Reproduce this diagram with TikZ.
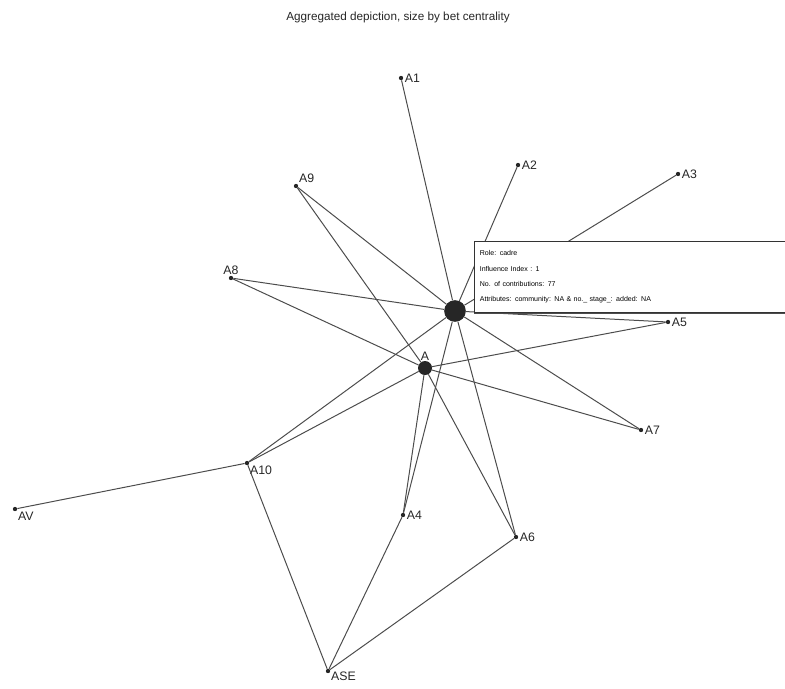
\documentclass[tikz,border=0pt]{standalone}
\usepackage{fontspec}
\setmainfont{Liberation Sans}
\usepackage{tikz}
\usetikzlibrary{positioning}
\tikzstyle{hub} = [circle, fill=black!85, inner sep=0pt, minimum size=6.5mm]
\tikzstyle{core} = [circle, fill=black!85, inner sep=0pt, minimum size=4.2mm]
\tikzstyle{actor} = [circle, fill=black!85, inner sep=0pt, minimum size=1.3mm]
\tikzstyle{tag} = [font=\fontsize{10.5}{12}\selectfont, inner sep=1pt, text=black!85]
\tikzstyle{tie} = [draw=black!70, line width=0.85pt]
\tikzstyle{infobox} = [rectangle, draw=black!80, line width=0.6pt, fill=white, align=left, anchor=north west, minimum width=93.3mm, minimum height=21.3mm, text width=90mm, font=\fontsize{6}{13}\selectfont, inner sep=1.5mm]

\begin{document}
\begin{tikzpicture}[x=0.3mm, y=-0.3mm]
        \useasboundingbox (0,0) rectangle (785,688);
        \node (title) [font=\fontsize{10}{12}\selectfont, text=black!85] at (398,17) {Aggregated depiction, size by bet centrality};

        \node (hub) [hub] at (455,311) {};
        \node (a) [core, label={[tag, yshift=-1pt]above:A}] at (425,368) {};
        \node (a1) [actor, label={[tag]right:A1}] at (401,78) {};
        \node (a2) [actor, label={[tag]right:A2}] at (518,165) {};
        \node (a3) [actor, label={[tag]right:A3}] at (678,174) {};
        \node (a9) [actor, label={[tag]above right:A9}] at (296,186) {};
        \node (a8) [actor, label={[tag]above:A8}] at (231,278) {};
        \node (a5) [actor, label={[tag]right:A5}] at (668,322) {};
        \node (a7) [actor, label={[tag]right:A7}] at (641,430) {};
        \node (a10) [actor, label={[tag]below right:A10}] at (247,463) {};
        \node (av) [actor, label={[tag]below right:AV}] at (15,509) {};
        \node (a4) [actor, label={[tag]right:A4}] at (403,515) {};
        \node (a6) [actor, label={[tag]right:A6}] at (516,537) {};
        \node (ase) [actor, label={[tag, yshift=2pt]below right:ASE}] at (328,671) {};

        \draw [tie] (hub) -- (a1);
        \draw [tie] (hub) -- (a2);
        \draw [tie] (hub) -- (a3);
        \draw [tie] (hub) -- (a9);
        \draw [tie] (hub) -- (a8);
        \draw [tie] (hub) -- (a5);
        \draw [tie] (hub) -- (a7);
        \draw [tie] (hub) -- (a6);
        \draw [tie] (hub) -- (a4);
        \draw [tie] (hub) -- (a10);

        \draw [tie] (a) -- (a9);
        \draw [tie] (a) -- (a8);
        \draw [tie] (a) -- (a5);
        \draw [tie] (a) -- (a7);
        \draw [tie] (a) -- (a6);
        \draw [tie] (a) -- (a4);
        \draw [tie] (a) -- (a10);

        \draw [tie] (a10) -- (av);
        \draw [tie] (a10) -- (ase);
        \draw [tie] (ase) -- (a4);
        \draw [tie] (ase) -- (a6);

        % tooltip sits over the hub ties
        \node (info) [infobox] at (474,241) {Role: cadre\\Influence Index : 1\\No. of contributions: 77\\Attributes: community: NA \& no.\_ stage\_: added: NA};
        \draw [black!70, line width=1.2pt] ([yshift=-0.6pt]info.south west) -- ([yshift=-0.6pt]info.south east);
    \end{tikzpicture}
\end{document}
